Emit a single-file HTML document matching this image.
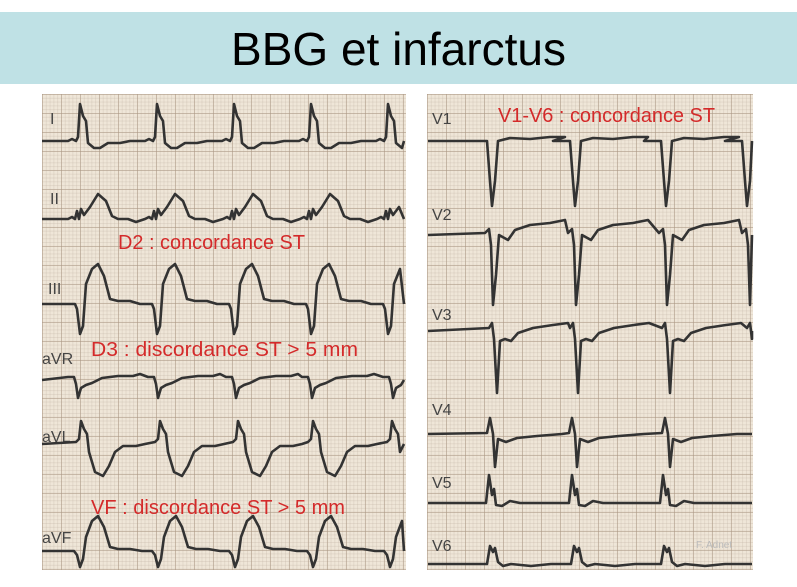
<!DOCTYPE html>
<html><head><meta charset="utf-8"><style>
html,body{margin:0;padding:0;background:#fff;width:797px;height:587px;overflow:hidden;font-family:"Liberation Sans",sans-serif}
#hdr{position:absolute;left:0;top:12px;width:797px;height:72px;background:#bfe1e5}
#hdr div{position:absolute;left:0;width:797px;top:10px;text-align:center;font-size:46px;color:#000}
.pan{position:absolute;top:94px;height:476px;background-color:#efe6d8;
background-image:linear-gradient(90deg,rgba(170,150,130,.5) 1px,transparent 1px),linear-gradient(rgba(170,150,130,.5) 1px,transparent 1px),linear-gradient(90deg,rgba(190,175,160,.28) 1px,transparent 1px),linear-gradient(rgba(190,175,160,.28) 1px,transparent 1px);
background-size:19px 19px,19px 19px,3.8px 3.8px,3.8px 3.8px}
svg{position:absolute;left:0;top:0}
</style></head><body>
<div id="hdr"><div>BBG et infarctus</div></div>
<div class="pan" style="left:42px;width:364px"></div>
<div class="pan" style="left:427px;width:326px"></div>
<svg width="797" height="587" id="s">
<g font-family="Liberation Sans, sans-serif" font-size="16" fill="#444">
<text x="50" y="124">I</text><text x="50" y="204">II</text><text x="48" y="294">III</text>
<text x="42" y="364">aVR</text><text x="42" y="442">aVL</text><text x="42" y="543">aVF</text>
<text x="432" y="124">V1</text><text x="432" y="220">V2</text><text x="432" y="320">V3</text>
<text x="432" y="415">V4</text><text x="432" y="488">V5</text><text x="432" y="551">V6</text>
</g>
<g font-family="Liberation Sans, sans-serif" font-size="20" fill="#d42a2a">
<text x="118" y="249" textLength="187" lengthAdjust="spacingAndGlyphs">D2 : concordance ST</text>
<text x="91" y="356" textLength="267" lengthAdjust="spacingAndGlyphs">D3 : discordance ST &gt; 5 mm</text>
<text x="91" y="514" textLength="254" lengthAdjust="spacingAndGlyphs">VF : discordance ST &gt; 5 mm</text>
<text x="498" y="122" textLength="217" lengthAdjust="spacingAndGlyphs">V1-V6 : concordance ST</text>
</g>
<text x="696" y="548" font-family="Liberation Sans, sans-serif" font-size="10" fill="#bbb">F. Adnet</text>
<g id="tr" fill="none" stroke="#333" stroke-width="2.6" stroke-linejoin="round"></g>
</svg>
<script>
function lead(x0,x1,base,beats,tpl){
 var pts=[[x0,base]];
 beats.forEach(function(b){tpl.forEach(function(p){var x=b+p[0];if(x>=x0&&x<=x1)pts.push([x,base+p[1]]);});});
 pts.push([x1,base]);
 var d=pts.map(function(p,i){return (i?'L':'M')+p[0].toFixed(1)+' '+p[1].toFixed(1)}).join(' ');
 var e=document.createElementNS('http://www.w3.org/2000/svg','path');e.setAttribute('d',d);
 document.getElementById('tr').appendChild(e);
}
var L=[42,404],R=[428,752];
var tI=[[-12,0],[-8,-2],[-4,0],[-2,-4],[0,-37],[3,-25],[6,-20],[8,2],[14,7],[20,7],[28,2],[40,2],[50,0],[60,0]];
lead(L[0],L[1],141,[80,157,234,311,388],tI);
var tII=[[-10,0],[-6,-2],[-3,0],[-1,-8],[1,0],[3,-10],[6,-4],[12,-12],[20,-25],[28,-18],[34,-3],[40,0],[50,0],[58,3]];
lead(L[0],L[1],219,[78,155,233,310,387],tII);
var tIII=[[-5,0],[-3,5],[0,30],[3,22],[6,-20],[12,-35],[18,-40],[24,-28],[30,-5],[38,-3],[50,-3],[60,0]];
lead(L[0],L[1],304,[80,157,234,311,388],tIII);
var taVR=[[-10,-3],[-4,-3],[-2,4],[0,18],[3,8],[8,5],[14,3],[24,-2],[40,-4],[55,-4],[62,-6]];
lead(L[0],L[1],380,[78,158,236,312,393],taVR);
var taVL=[[-5,-2],[-2,-5],[0,-23],[3,-15],[6,-10],[8,8],[14,28],[22,32],[28,22],[34,8],[42,2],[55,2],[64,0]];
lead(L[0],L[1],444,[81,160,238,313,392],taVL);
var taVF=[[-6,0],[-3,4],[0,16],[3,8],[6,-14],[12,-30],[18,-35],[24,-24],[30,-4],[38,-2],[50,-2],[62,0]];
lead(L[0],L[1],551,[80,158,235,313,390],taVF);
var tV1=[[-20,0],[-3,0],[0,40],[2,65],[5,40],[8,0],[20,-3],[40,-2],[60,-4],[75,-4]];
lead(R[0],R[1],141,[490,573,664,745],tV1);
var tV2=[[-5,-2],[-1,-6],[1,10],[3,70],[6,40],[9,0],[18,5],[25,-5],[40,-10],[60,-12],[75,-15]];
lead(R[0],R[1],235,[490,573,664,747],tV2);
var tV3=[[-4,-3],[-1,-8],[1,8],[4,62],[7,10],[12,8],[18,10],[25,2],[40,-3],[60,-6],[75,-8]];
lead(R[0],R[1],331,[493,574,666,751],tV3);
var tV4=[[-5,-1],[-2,-16],[1,0],[3,33],[6,5],[14,8],[25,4],[45,2],[70,0]];
lead(R[0],R[1],434,[492,574,667],tV4);
var tV5=[[-4,0],[-1,-28],[2,-8],[4,-14],[6,2],[12,3],[20,-2],[30,0],[60,0]];
lead(R[0],R[1],503,[490,573,664],tV5);
var tV6=[[-4,0],[-1,-18],[2,-12],[4,-16],[7,-2],[12,2],[20,0],[40,2],[60,0]];
lead(R[0],R[1],564,[491,575,665],tV6);
</script>
</body></html>
